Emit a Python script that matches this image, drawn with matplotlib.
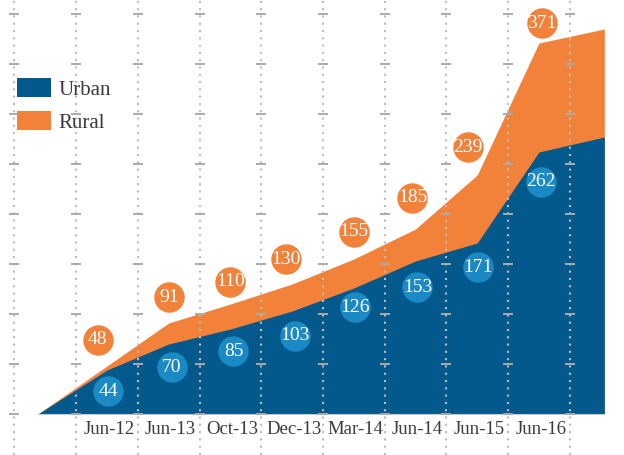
import numpy as np
import matplotlib.pyplot as plt
from matplotlib.patches import Patch


# ============================== Data ======================================

categories = ['Jun-12', 'Jun-13', 'Oct-13', 'Dec-13', 'Mar-14', 'Jun-14', 'Jun-15', 'Jun-16']
urban = [44, 70, 85, 103, 126, 153, 171, 262]
rural = [48, 91, 110, 130, 155, 185, 239, 371]

# unlabelled points where the areas start and stop
start_value = 0
urban_end = 277
rural_end = 385


# ============================== Style =====================================

urban_color = '#03588C'
rural_color = '#F2823A'
bubble_blue = '#1B8AC4'
grid_color = '#BDBDBD'
text_color = '#3A3A3A'
serif = ['Liberation Serif', 'DejaVu Serif']

# where the areas begin / end, in category units
x_start, x_end = -1.12, 8.06

# bubble nudges (category units / value units)
rural_dx = [-0.15, 0.0, 0.0, -0.1, 0.0, -0.05, -0.15, 0.05]
rural_dy = [26, 26, 22, 25, 27, 31, 28, 20]
urban_dx = [0.02, 0.05, 0.05, 0.04, 0.02, 0.03, 0.02, 0.03]
urban_dy = [-21, -23, -22, -25, -19, -26, -24, -30]


# ============================== Plot ======================================

fig = plt.figure(figsize=(6.24, 4.55), dpi=100)
ax = fig.add_axes([0, 0, 1, 1])
ax.set_xlim(-1.734, 8.379)
ax.set_ylim(-41, 414)
ax.set_axis_off()

pos = np.arange(len(categories))
area_x = np.concatenate([[x_start], pos, [x_end]])
rural_y = np.array([start_value] + rural + [rural_end])
urban_y = np.array([start_value] + urban + [urban_end])

# Areas
ax.fill_between(area_x, 0, rural_y, color=rural_color, lw=0, zorder=1)
ax.fill_between(area_x, 0, urban_y, color=urban_color, lw=0, zorder=2)
ax.plot([x_start, x_end], [0, 0], color='#C8C8C8', lw=0.8, zorder=2.5)

# Dotted vertical grid with small dashes every 50
grid_x = np.arange(-1.5, 9.0, 1.0)
ax.vlines(grid_x, -41, 414, colors=grid_color, linestyles=(0, (1, 2.5)),
          linewidth=1.5, zorder=3)
tick_y = np.arange(0, 401, 50)
ax.plot(np.repeat(grid_x, len(tick_y)), np.tile(tick_y, len(grid_x)),
        ls='none', marker='_', ms=7.5, mew=1.4, color='#ABABAB', zorder=3)

# Value bubbles
rx = pos + np.array(rural_dx)
ry = np.array(rural) + np.array(rural_dy)
ux = pos + np.array(urban_dx)
uy = np.array(urban) + np.array(urban_dy)
ax.scatter(rx, ry, s=480, color=rural_color, lw=0, zorder=4)
ax.scatter(ux, uy, s=480, color=bubble_blue, lw=0, zorder=4)
for x, y, v in zip(rx, ry, rural):
    ax.text(x, y, str(v), ha='center', va='center', color='white',
            fontsize=14, family=serif, zorder=5)
for x, y, v in zip(ux, uy, urban):
    ax.text(x, y, str(v), ha='center', va='center', color='white',
            fontsize=14, family=serif, zorder=5)

# Category labels under the baseline
for x, lab in zip(pos, categories):
    ax.text(x + 0.03, -16, lab, ha='center', va='center', color=text_color,
            fontsize=13.5, family=serif, zorder=5)

# Legend
handles = [Patch(facecolor=urban_color, edgecolor='none', label='Urban'),
           Patch(facecolor=rural_color, edgecolor='none', label='Rural')]
fig.legend(handles=handles, loc='upper left', bbox_to_anchor=(17 / 624, 1 - 78 / 455),
           frameon=False, borderpad=0, borderaxespad=0, handlelength=1.65,
           handleheight=1.02, handletextpad=0.35, labelspacing=0.55,
           prop={'family': serif, 'size': 15}, labelcolor=text_color)

fig.savefig('out.png', dpi=100)
